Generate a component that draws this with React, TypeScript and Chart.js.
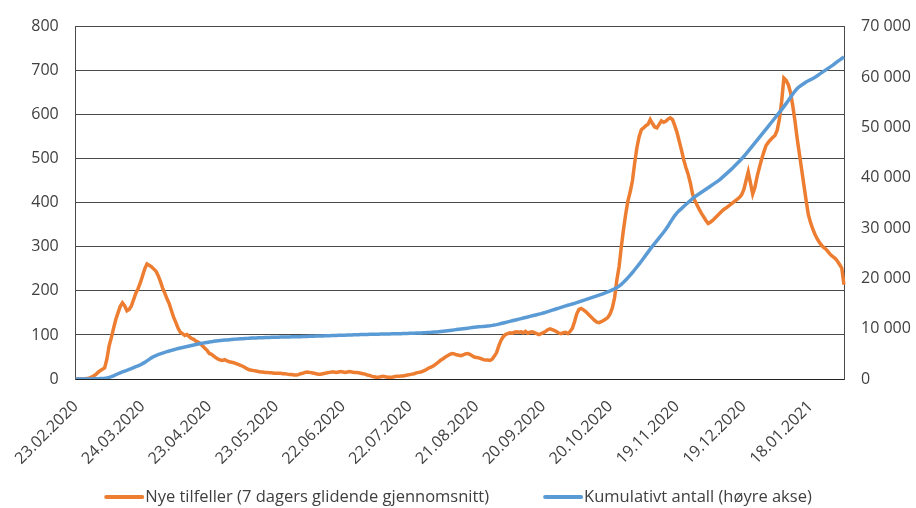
import React, { useEffect, useRef } from "react";
import { Chart, registerables } from "chart.js";

Chart.register(...registerables);

// First day of the daily series (dd.mm.yyyy labels are built from it)
const START_DATE = "2020-02-23";

// Visible x-axis tick labels (every 30th day)
const TICK_LABELS = [
  "23.02.2020", "24.03.2020", "23.04.2020", "23.05.2020", "22.06.2020", "22.07.2020",
  "21.08.2020", "20.09.2020", "20.10.2020", "19.11.2020", "19.12.2020", "18.01.2021",
];

const SERIES_NEW_LABEL = "Nye tilfeller (7 dagers glidende gjennomsnitt)";
const SERIES_CUM_LABEL = "Kumulativt antall (høyre akse)";

// New cases, 7-day rolling average (left axis), one value per day
const NEW_CASES = [
  0, 0, 0, 0, 0, 1, 2, 4, 7, 10,
  15, 19, 22, 25, 45, 75, 94, 115, 135, 150,
  165, 173, 166, 155, 158, 166, 180, 195, 205, 218,
  234, 250, 261, 258, 255, 250, 245, 235, 222, 207,
  195, 182, 171, 155, 140, 128, 115, 106, 103, 99,
  101, 96, 92, 90, 86, 84, 80, 75, 70, 65,
  58, 56, 52, 48, 45, 43, 42, 44, 41, 39,
  38, 37, 35, 33, 31, 29, 26, 23, 21, 20,
  19, 18, 17, 16, 16, 15, 15, 14, 14, 13,
  13, 13, 13, 12, 12, 11, 10, 10, 9, 9,
  10, 12, 13, 15, 16, 15, 14, 13, 12, 11,
  11, 12, 13, 14, 15, 16, 16, 15, 16, 17,
  16, 15, 16, 17, 16, 15, 15, 14, 13, 12,
  11, 9, 8, 6, 5, 4, 4, 5, 6, 5,
  4, 4, 4, 5, 6, 6, 7, 7, 8, 9,
  10, 11, 12, 14, 15, 16, 18, 20, 23, 26,
  28, 31, 35, 39, 43, 46, 50, 53, 56, 58,
  57, 55, 54, 53, 55, 57, 58, 56, 53, 50,
  49, 48, 46, 44, 43, 43, 42, 45, 52, 60,
  75, 88, 96, 101, 103, 105, 104, 106, 107, 106,
  107, 105, 108, 104, 106, 107, 105, 103, 101, 103,
  105, 108, 112, 114, 112, 110, 107, 104, 103, 105,
  106, 103, 108, 115, 130, 148, 158, 160, 157, 153,
  148, 143, 138, 133, 129, 128, 130, 133, 136, 140,
  148, 162, 185, 225, 255, 300, 340, 375, 405, 425,
  450, 490, 525, 550, 566, 570, 575, 578, 589, 580,
  572, 570, 578, 586, 583, 585, 590, 593, 589, 575,
  560, 540, 520, 498, 480, 465, 445, 420, 405, 395,
  385, 376, 368, 360, 353, 356, 360, 365, 370, 375,
  380, 385, 388, 392, 396, 400, 404, 408, 412, 418,
  430, 450, 470, 445, 420, 435, 460, 480, 499, 515,
  530, 537, 543, 548, 553, 565, 590, 630, 683, 678,
  668, 650, 620, 585, 545, 510, 475, 440, 405, 373,
  355, 340, 328, 318, 310, 303, 298, 294, 288, 282,
  278, 274, 268, 260, 252, 214,
];

// Cumulative number of cases (right axis), one value per day
const CUMULATIVE = [
  0, 0, 0, 1, 2, 4, 8, 15, 25, 40,
  60, 85, 110, 150, 220, 320, 460, 640, 840, 1040,
  1230, 1400, 1560, 1730, 1900, 2080, 2260, 2450, 2630, 2800,
  3050, 3300, 3600, 3900, 4200, 4450, 4650, 4850, 5000, 5150,
  5300, 5430, 5560, 5690, 5820, 5940, 6050, 6160, 6260, 6350,
  6450, 6550, 6650, 6750, 6850, 6950, 7050, 7130, 7200, 7270,
  7350, 7420, 7480, 7540, 7590, 7640, 7690, 7730, 7770, 7810,
  7850, 7890, 7920, 7950, 7980, 8010, 8040, 8070, 8100, 8125,
  8150, 8165, 8180, 8195, 8210, 8225, 8240, 8255, 8270, 8285,
  8300, 8310, 8320, 8330, 8340, 8350, 8360, 8370, 8380, 8390,
  8400, 8415, 8430, 8445, 8460, 8475, 8490, 8505, 8520, 8535,
  8550, 8565, 8580, 8595, 8610, 8625, 8640, 8655, 8670, 8685,
  8700, 8715, 8730, 8745, 8760, 8775, 8790, 8805, 8820, 8835,
  8845, 8855, 8865, 8875, 8885, 8895, 8905, 8915, 8925, 8935,
  8950, 8960, 8970, 8980, 8990, 9000, 9010, 9025, 9040, 9055,
  9070, 9085, 9100, 9120, 9140, 9160, 9180, 9200, 9230, 9260,
  9290, 9320, 9355, 9395, 9440, 9485, 9535, 9590, 9645, 9700,
  9760, 9815, 9870, 9925, 9980, 10040, 10100, 10155, 10210, 10260,
  10310, 10360, 10405, 10450, 10495, 10540, 10590, 10650, 10720, 10800,
  10900, 11010, 11120, 11230, 11340, 11450, 11560, 11670, 11780, 11890,
  12000, 12110, 12220, 12330, 12440, 12550, 12660, 12770, 12880, 12980,
  13110, 13250, 13390, 13530, 13670, 13810, 13950, 14090, 14230, 14370,
  14510, 14640, 14770, 14900, 15030, 15170, 15310, 15460, 15610, 15760,
  15910, 16060, 16210, 16360, 16510, 16660, 16810, 16970, 17140, 17320,
  17500, 17700, 17900, 18150, 18450, 18800, 19200, 19650, 20150, 20650,
  21150, 21700, 22250, 22800, 23400, 24000, 24600, 25200, 25800, 26400,
  26950, 27500, 28050, 28600, 29150, 29750, 30400, 31100, 31800, 32450,
  33000, 33450, 33850, 34250, 34650, 35050, 35450, 35850, 36200, 36500,
  36800, 37100, 37400, 37700, 38000, 38300, 38600, 38900, 39200, 39500,
  39900, 40300, 40700, 41100, 41500, 41900, 42350, 42800, 43250, 43700,
  44200, 44700, 45250, 45800, 46350, 46900, 47450, 48000, 48550, 49100,
  49650, 50200, 50750, 51300, 51850, 52400, 52950, 53500, 54100, 54700,
  55300, 55950, 56600, 57200, 57700, 58100, 58400, 58700, 59000, 59250,
  59450, 59700, 59950, 60250, 60550, 60850, 61150, 61450, 61750, 62050,
  62350, 62700, 63050, 63350, 63650, 63950,
];

const ORANGE = "#ED7D31";
const BLUE = "#5B9BD5";
const TEXT = "#404040";
const GRID = "#4a4a4a";
const FONT = "'Open Sans', 'Noto Sans', sans-serif";

function buildCategories(start: string, n: number): string[] {
  const [y, m, d] = start.split("-").map(Number);
  const out: string[] = [];
  for (let i = 0; i < n; i++) {
    const dt = new Date(Date.UTC(y, m - 1, d + i));
    const dd = String(dt.getUTCDate()).padStart(2, "0");
    const mm = String(dt.getUTCMonth() + 1).padStart(2, "0");
    out.push(`${dd}.${mm}.${dt.getUTCFullYear()}`);
  }
  return out;
}

const CATEGORIES = buildCategories(START_DATE, NEW_CASES.length);

function formatThousands(v: number): string {
  return String(Math.round(v)).replace(/\B(?=(\d{3})+(?!\d))/g, " ");
}

const bottomLegend = {
  id: "bottomLegend",
  afterDraw(chart: any) {
    const ctx = chart.ctx;
    const ds = chart.data.datasets;
    const lineW = 40;
    const gapText = 1;
    const gapItem = 54;
    const cy = 497;
    ctx.save();
    ctx.font = `16.5px ${FONT}`;
    const widths = ds.map((d: any) => ctx.measureText(d.label).width);
    let total = 0;
    widths.forEach((w: number, i: number) => {
      total += lineW + gapText + w + (i < widths.length - 1 ? gapItem : 0);
    });
    let x = (chart.width - total) / 2;
    ds.forEach((d: any, i: number) => {
      ctx.strokeStyle = d.borderColor;
      ctx.lineWidth = 4;
      ctx.lineCap = "round";
      ctx.beginPath();
      ctx.moveTo(x + 2, cy);
      ctx.lineTo(x + lineW - 2, cy);
      ctx.stroke();
      ctx.fillStyle = TEXT;
      ctx.textBaseline = "middle";
      ctx.textAlign = "left";
      ctx.fillText(d.label, x + lineW + gapText, cy);
      x += lineW + gapText + widths[i] + gapItem;
    });
    ctx.restore();
  },
};

export default function App() {
  const canvasRef = useRef<HTMLCanvasElement | null>(null);

  useEffect(() => {
    const canvas = canvasRef.current;
    if (!canvas) return;
    const chart = new Chart(canvas, {
      type: "line",
      data: {
        labels: CATEGORIES,
        datasets: [
          {
            label: SERIES_NEW_LABEL,
            data: NEW_CASES,
            borderColor: ORANGE,
            backgroundColor: ORANGE,
            borderWidth: 3.5,
            pointRadius: 0,
            tension: 0,
            yAxisID: "y",
            order: 1,
          },
          {
            label: SERIES_CUM_LABEL,
            data: CUMULATIVE,
            borderColor: BLUE,
            backgroundColor: BLUE,
            borderWidth: 3.5,
            pointRadius: 0,
            tension: 0,
            yAxisID: "y1",
            order: 0,
          },
        ],
      },
      options: {
        responsive: false,
        animation: false,
        devicePixelRatio: 1,
        layout: { padding: { top: 23, bottom: 40, left: 0, right: 0 } },
        plugins: {
          legend: { display: false },
          tooltip: { enabled: false },
        },
        scales: {
          x: {
            type: "category",
            offset: false,
            grid: { display: false, drawTicks: false },
            border: { display: true, color: "#222", width: 1 },
            ticks: {
              autoSkip: false,
              minRotation: 45,
              maxRotation: 45,
              padding: 18,
              color: TEXT,
              font: { family: FONT, size: 16 },
              callback: (_v: any, index: number) => {
                const lab = CATEGORIES[index];
                return TICK_LABELS.includes(lab) ? lab : null;
              },
            },
            afterFit: (scale: any) => {
              scale.height = 89;
            },
          },
          y: {
            position: "left",
            min: 0,
            max: 800,
            grid: { color: GRID, lineWidth: 1, drawTicks: false },
            border: { display: true, color: GRID, width: 1 },
            ticks: {
              stepSize: 100,
              padding: 17,
              color: TEXT,
              font: { family: FONT, size: 16 },
            },
            afterFit: (scale: any) => {
              scale.width = 73;
            },
          },
          y1: {
            position: "right",
            min: 0,
            max: 70000,
            grid: { display: false, drawTicks: false },
            border: { display: true, color: GRID, width: 1 },
            ticks: {
              stepSize: 10000,
              padding: 17,
              color: TEXT,
              font: { family: FONT, size: 16 },
              callback: (v: any) => formatThousands(Number(v)),
            },
            afterFit: (scale: any) => {
              scale.width = 72;
            },
          },
        },
      },
      plugins: [bottomLegend],
    });
    return () => chart.destroy();
  }, []);

  return (
    <div style={{ position: "absolute", left: 0, top: 0, width: 916, height: 508, background: "#fff" }}>
      <canvas ref={canvasRef} width={916} height={508} style={{ display: "block" }} />
    </div>
  );
}
